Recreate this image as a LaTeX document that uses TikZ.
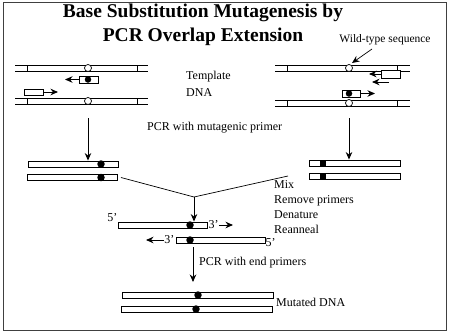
\documentclass[tikz,border=0pt]{standalone}
\usepackage{fontspec}
\setmainfont{Liberation Serif}
\usetikzlibrary{arrows.meta,positioning}

\begin{document}
\begin{tikzpicture}[x=1pt,y=-1pt,
    bar/.style={draw,fill=white,inner sep=0pt,minimum height=6pt,line width=0.9pt},
    primer/.style={draw,fill=white,inner sep=0pt,minimum width=19pt,minimum height=7pt,line width=0.9pt},
    mutdot/.style={fill=black,circle,inner sep=0pt,minimum size=7.5pt},
    wtdot/.style={draw,fill=white,circle,inner sep=0pt,minimum size=7pt,line width=0.7pt},
    lbl/.style={font=\fontsize{12}{15}\selectfont,inner sep=0pt},
    arr/.style={-{Stealth[length=7.5pt,width=6.5pt]},line width=0.9pt}]
  \useasboundingbox (0,0) rectangle (450,335);
  % frame and title
  \draw[line width=1pt,black!75] (3,2) rectangle (446,330);
  \node[font=\fontsize{19.5}{24}\selectfont\bfseries,align=center] (title) at (203,25)
    {Base Substitution Mutagenesis by\\PCR Overlap Extension};

  % template DNA, two duplexes on each side
  \foreach \xa/\xb/\ta/\tb/\xc/\ya in {15/148/27/137/88/65, 15/148/27/137/88/98,
                                      275/410/287/397/349/65, 275/410/287/397/349/100}{
    \draw[line width=0.8pt] (\xa,\ya) -- (\xb,\ya) (\xa,\ya+6) -- (\xb,\ya+6);
    \draw[line width=0.8pt] (\ta,\ya) -- (\ta,\ya+6) (\tb,\ya) -- (\tb,\ya+6);
    \node[wtdot] at (\xc,\ya+3) {};
  }
  \node[lbl,align=left,anchor=west,font=\fontsize{12}{17}\selectfont] (tmpl) at (186,83.5) {Template\\DNA};

  % primers, left side
  \node[primer] (pmL) at (88.5,79.5) {};
  \node[mutdot,minimum size=6.5pt] at (88,79.5) {};
  \coordinate (pmLend) at (65,79.5);
  \draw[arr] (pmL.west) -- (pmLend);
  \node[primer,minimum height=6pt] (peL) at (33.5,92) {};
  \coordinate (peLend) at (58,92);
  \draw[arr] (peL.east) -- (peLend);

  % primers, right side
  \node[primer,minimum height=8pt] (peR) at (390.5,74) {};
  \coordinate (peRend) at (369,74);
  \draw[arr] (peR.west) -- (peRend);
  \coordinate (peRa) at (389,82);
  \coordinate (peRb) at (372,82);
  \draw[arr] (peRa) -- (peRb);
  \node[primer,minimum width=18pt] (pmR) at (351,93.5) {};
  \node[mutdot,minimum size=6.5pt] at (349,93.5) {};
  \coordinate (pmRend) at (375,93.5);
  \draw[arr] (pmR.east) -- (pmRend);

  % wild-type label
  \node[lbl,font=\fontsize{11.5}{14}\selectfont] (wt) at (385,40) {Wild-type sequence};
  \coordinate (wtend) at (352,63);
  \draw[arr,line width=0.7pt] (372,49) -- (wtend);

  % first PCR
  \coordinate (tL) at (88,118);
  \coordinate (tR) at (349,118);
  \node[bar,minimum width=90pt] (aL1) at (73,164) {};
  \node[bar,minimum width=90pt] (aL2) at (72.5,177.5) {};
  \node[mutdot] at (101,164) {};
  \node[mutdot] at (101,177.5) {};
  \node[bar,minimum width=91pt] (aR1) at (354.5,163) {};
  \node[bar,minimum width=91pt] (aR2) at (354.5,176.5) {};
  \node[mutdot,rectangle,minimum width=6.5pt,minimum height=7pt] at (323,163) {};
  \node[mutdot,rectangle,minimum width=6.5pt,minimum height=7pt] at (323,176.5) {};
  \draw[arr] (tL) -- (aL1.north -| tL);
  \draw[arr] (tR) -- (aR1.north -| tR);
  \node[lbl,anchor=west] (pcr1) at (147,128) {PCR with mutagenic primer};

  % mix and reanneal
  \coordinate (apex) at (194,197);
  \draw[line width=0.7pt] (aL2.east) ++(3,0) -- (apex);
  \draw[line width=0.7pt] (288,176) -- (apex);
  \node[lbl,align=left,anchor=west,font=\fontsize{12}{15}\selectfont] (mix) at (274,207.5)
    {Mix\\Remove primers\\Denature\\Reanneal};
  \node[bar,minimum width=89pt] (hT) at (162.5,225) {};
  \node[bar,minimum width=89pt] (hB) at (220.5,240) {};
  \node[mutdot] at (190,225) {};
  \node[mutdot] at (190,240) {};
  \draw[arr] (apex) -- (apex |- hT.north);
  \node[lbl,anchor=south east] (fiveT) at (hT.north west) {5’};
  \node[lbl,anchor=west] (threeT) at ([xshift=1pt]hT.east) {3’};
  \coordinate (threeTend) at (233,225);
  \draw[arr] (threeT.east) -- (threeTend);
  \node[lbl,anchor=east] (threeB) at ([xshift=-1pt]hB.west) {3’};
  \coordinate (threeBend) at (146,240);
  \draw[arr] (threeB.west) -- (threeBend);
  \node[lbl,anchor=west] (fiveB) at ([yshift=-3pt]hB.east) {5’};

  % second PCR
  \coordinate (pcrtop) at (193,247);
  \node[bar,minimum width=151pt] (mT) at (197.5,295) {};
  \node[bar,minimum width=151pt] (mB) at (196.5,309) {};
  \node[mutdot] at (198,295) {};
  \node[mutdot] at (196,309) {};
  \draw[arr] (pcrtop) -- (pcrtop |- 0,282);
  \node[lbl,anchor=west] (pcr2) at (199,263) {PCR with end primers};
  \node[lbl,anchor=west] (mut) at (276,302) {Mutated DNA};
\end{tikzpicture}
\end{document}
